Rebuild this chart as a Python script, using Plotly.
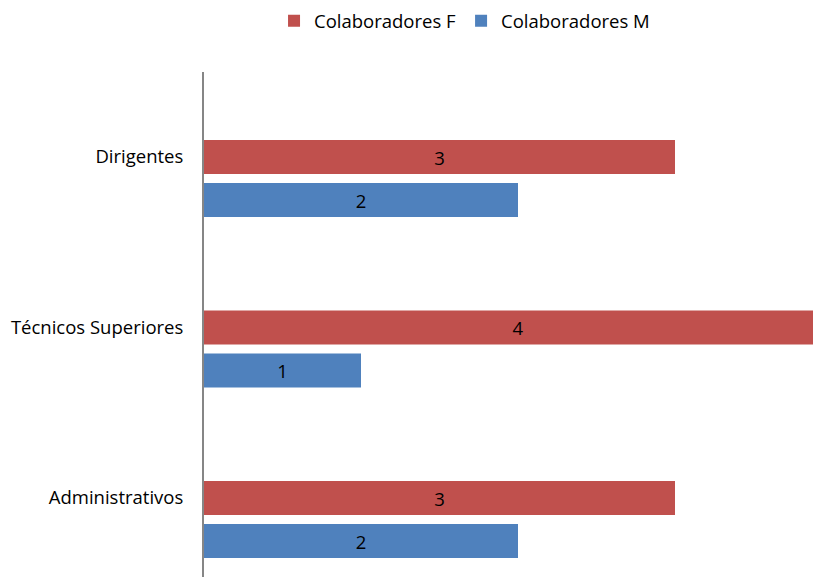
import plotly.graph_objects as go

categories = ["Dirigentes", "Técnicos Superiores", "Administrativos"]
values_f = [3, 4, 3]
values_m = [2, 1, 2]
series_names = ["Colaboradores F", "Colaboradores M"]
colors = ["#C0504D", "#4F81BD"]

FONT = "Open Sans, Calibri, Carlito, sans-serif"
FS = 18.5

fig = go.Figure()
for name, vals, col in zip(series_names, [values_f, values_m], colors):
    fig.add_trace(go.Bar(
        y=categories, x=vals, name=name, orientation="h",
        marker=dict(color=col, line=dict(width=0)),
        text=[str(v) for v in vals], textposition="inside",
        insidetextanchor="middle",
        textfont=dict(family=FONT, size=FS, color="#000000"),
        cliponaxis=True,
    ))

fig.update_layout(
    width=813, height=577,
    margin=dict(l=204, r=0, t=72, b=0),
    paper_bgcolor="white", plot_bgcolor="white",
    barmode="group", bargap=0.496, bargroupgap=0.209,
    font=dict(family=FONT, size=FS, color="#000000"),
    showlegend=True,
    legend=dict(orientation="h", x=0.115, y=0.996, xref="paper", yref="container",
                xanchor="left", yanchor="top",
                font=dict(family=FONT, size=FS, color="#000000"),
                itemwidth=30, traceorder="normal", itemclick=False),
    xaxis=dict(range=[0, 3.879], visible=False, showgrid=False, zeroline=False, fixedrange=True),
    yaxis=dict(type="category", range=[2.337, -0.625], showgrid=False, zeroline=False,
               showline=True, linecolor="#868686", linewidth=2,
               ticks="", ticklabelstandoff=15, ticklabelshift=22,
               tickfont=dict(family=FONT, size=FS, color="#000000"), fixedrange=True),
)

fig.write_html("out.html", config={"displayModeBar": False})
